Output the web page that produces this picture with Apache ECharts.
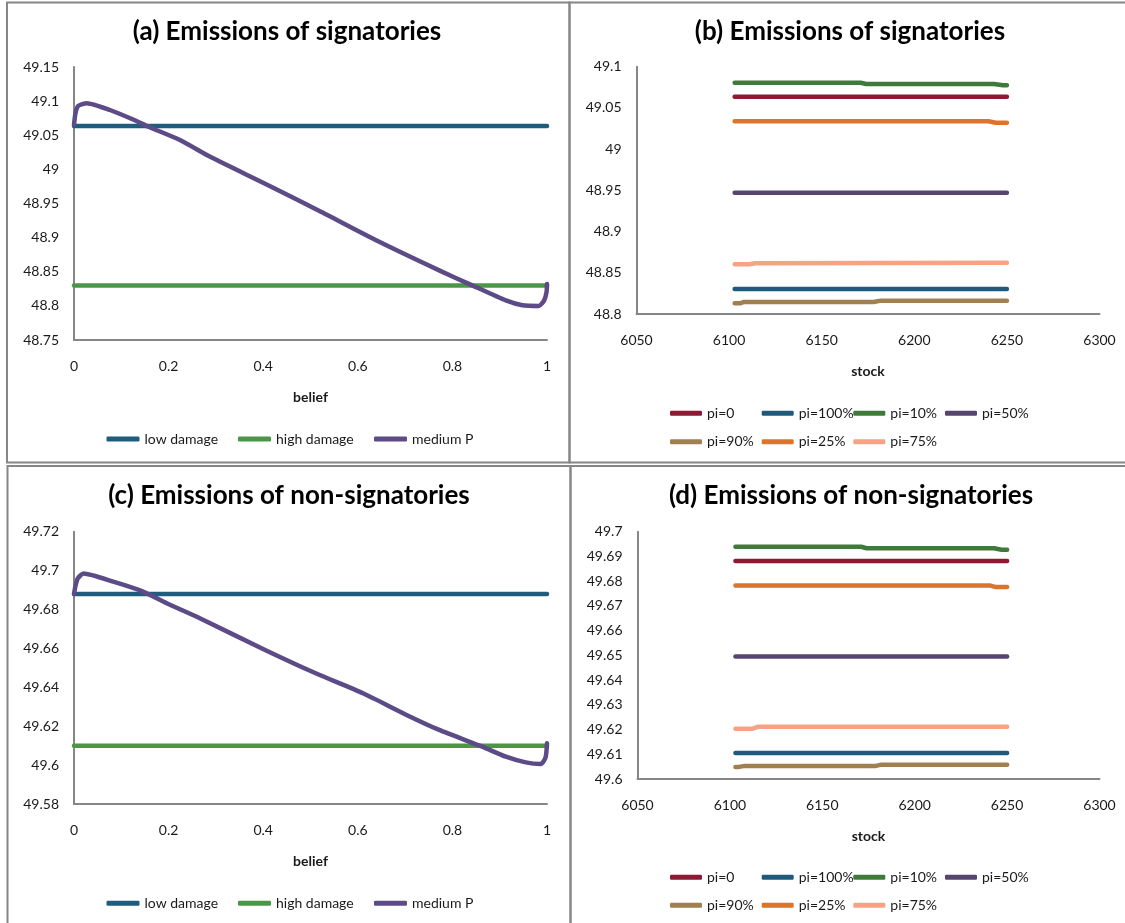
<!DOCTYPE html>
<html>
<head>
<meta charset="utf-8">
<script src="https://cdn.jsdelivr.net/npm/echarts@6/dist/echarts.min.js"></script>
<style>html,body{margin:0;padding:0;background:#fff}#main{width:1125px;height:923px}</style>
</head>
<body>
<div id="main"></div>
<script>
// ---------- DATA ----------
// Panel (a): emissions of signatories vs belief
const lowDamageA = 49.0636;
const highDamageA = 48.8300;
const beliefA  = [0, 0.003, 0.009, 0.027, 0.076, 0.125, 0.159, 0.224, 0.289, 0.404, 0.519, 0.642, 0.772, 0.842, 0.913, 0.948, 0.983, 0.994, 0.999, 1.0];
const mediumPA = [49.065, 49.082, 49.093, 49.097, 49.087, 49.073, 49.062, 49.043, 49.018, 48.979, 48.939, 48.895, 48.852, 48.830, 48.808, 48.801, 48.800, 48.808, 48.820, 48.832];

// Panel (c): emissions of non-signatories vs belief
const lowDamageC = 49.688;
const highDamageC = 49.610;
const beliefC  = [0, 0.003, 0.008, 0.02, 0.083, 0.146, 0.196, 0.266, 0.404, 0.511, 0.611, 0.703, 0.772, 0.863, 0.913, 0.955, 0.987, 0.997, 1.0];
const mediumPC = [49.688, 49.692, 49.696, 49.6985, 49.6943, 49.6892, 49.6832, 49.6755, 49.6592, 49.6472, 49.6369, 49.6258, 49.6181, 49.6095, 49.6043, 49.6014, 49.6006, 49.604, 49.6112];

// Panel (b): emissions of signatories vs stock  [stock, emission]
const bPi0   = [[6103, 49.0636], [6250, 49.0636]];
const bPi100 = [[6103, 48.8303], [6250, 48.8303]];
const bPi10  = [[6103, 49.0806], [6171, 49.0806], [6174, 49.0790], [6243, 49.0790], [6248, 49.0774], [6250, 49.0774]];
const bPi50  = [[6103, 48.9472], [6250, 48.9472]];
const bPi90  = [[6103, 48.8130], [6106, 48.8130], [6108, 48.8146], [6178, 48.8146], [6182, 48.8162], [6250, 48.8162]];
const bPi25  = [[6103, 49.0338], [6240, 49.0338], [6244, 49.0321], [6250, 49.0321]];
const bPi75  = [[6103, 48.8603], [6111, 48.8603], [6114, 48.8615], [6250, 48.8623]];

// Panel (d): emissions of non-signatories vs stock
const dPi0   = [[6103, 49.6882], [6250, 49.6882]];
const dPi100 = [[6103, 49.6105], [6250, 49.6105]];
const dPi10  = [[6103, 49.6939], [6171, 49.6939], [6174, 49.6933], [6243, 49.6933], [6247, 49.6927], [6250, 49.6927]];
const dPi50  = [[6103, 49.6495], [6250, 49.6495]];
const dPi90  = [[6103, 49.6049], [6105, 49.6049], [6108, 49.6053], [6179, 49.6053], [6182, 49.6058], [6250, 49.6058]];
const dPi25  = [[6103, 49.6782], [6241, 49.6782], [6244, 49.6776], [6250, 49.6776]];
const dPi75  = [[6103, 49.6203], [6112, 49.6203], [6115, 49.6211], [6250, 49.6211]];

const piNames = ['pi=0', 'pi=100%', 'pi=10%', 'pi=50%', 'pi=90%', 'pi=25%', 'pi=75%'];
const beliefNames = ['low damage', 'high damage', 'medium P'];
const titles = ['(a) Emissions of signatories', '(b) Emissions of signatories',
                '(c) Emissions of non-signatories', '(d) Emissions of non-signatories'];

// ---------- STYLE ----------
const FONT = 'Lato';
const AXIS_COLOR = '#868686';
const TEXT_COLOR = '#1a1a1a';
const piColors = {
  'pi=0': '#8B1A32', 'pi=100%': '#1F5A7C', 'pi=10%': '#3E7B3B', 'pi=50%': '#56466F',
  'pi=90%': '#A07F50', 'pi=25%': '#DD7429', 'pi=75%': '#F5A384'
};
const beliefColors = { 'low damage': '#1F5C7E', 'high damage': '#4C9648', 'medium P': '#5C4B86' };

const grids = [
  { left: 74,    top: 67,    width: 473, height: 273 },   // a
  { left: 636.5, top: 66.7,  width: 463, height: 247.3 }, // b
  { left: 74,    top: 531.7, width: 473, height: 272.3 }, // c
  { left: 637.5, top: 531.7, width: 462, height: 247.3 }  // d
];

const fmt = v => String(parseFloat(Number(v).toFixed(4)));

function xAxis(gi, isStock) {
  return {
    type: 'value', gridIndex: gi,
    min: isStock ? 6050 : 0, max: isStock ? 6300 : 1, interval: isStock ? 50 : 0.2,
    name: isStock ? 'stock' : 'belief', nameLocation: 'middle', nameGap: 50,
    nameTextStyle: { fontFamily: FONT, fontSize: 14, fontWeight: 'bold', color: TEXT_COLOR },
    axisLine: { onZero: false, lineStyle: { color: AXIS_COLOR, width: 2 } },
    axisTick: { show: false }, splitLine: { show: false },
    axisLabel: { fontFamily: FONT, fontSize: 14, color: TEXT_COLOR, margin: 19, formatter: fmt }
  };
}
function yAxis(gi, min, max, interval) {
  return {
    type: 'value', gridIndex: gi, min, max, interval,
    axisLine: { show: true, lineStyle: { color: AXIS_COLOR, width: 2 } },
    axisTick: { show: false }, splitLine: { show: false },
    axisLabel: { fontFamily: FONT, fontSize: 14, color: TEXT_COLOR, margin: 15, formatter: fmt }
  };
}
function line(name, data, gi, color, smooth) {
  return {
    name, type: 'line', xAxisIndex: gi, yAxisIndex: gi, data,
    symbol: 'none', showSymbol: false, smooth: smooth || false, animation: false,
    lineStyle: { color, width: 4.5, cap: 'round', join: 'round' },
    itemStyle: { color }
  };
}
const zip = (xs, ys) => xs.map((x, i) => [x, ys[i]]);

const series = [
  line('low damage',  [[0, lowDamageA], [1, lowDamageA]], 0, beliefColors['low damage']),
  line('high damage', [[0, highDamageA], [1, highDamageA]], 0, beliefColors['high damage']),
  line('medium P',    zip(beliefA, mediumPA), 0, beliefColors['medium P'], 0.2),
  line('low damage',  [[0, lowDamageC], [1, lowDamageC]], 2, beliefColors['low damage']),
  line('high damage', [[0, highDamageC], [1, highDamageC]], 2, beliefColors['high damage']),
  line('medium P',    zip(beliefC, mediumPC), 2, beliefColors['medium P'], 0.2)
];
const bData = { 'pi=0': bPi0, 'pi=100%': bPi100, 'pi=10%': bPi10, 'pi=50%': bPi50, 'pi=90%': bPi90, 'pi=25%': bPi25, 'pi=75%': bPi75 };
const dData = { 'pi=0': dPi0, 'pi=100%': dPi100, 'pi=10%': dPi10, 'pi=50%': dPi50, 'pi=90%': dPi90, 'pi=25%': dPi25, 'pi=75%': dPi75 };
piNames.forEach(n => series.push(line(n, bData[n], 1, piColors[n])));
piNames.forEach(n => series.push(line(n, dData[n], 3, piColors[n])));

// legends (one component per item, for Excel-like fixed positions)
const legends = [];
function legendItem(name, left, cy, w) {
  legends.push({
    data: [{ name, icon: 'roundRect' }], left, top: cy - 7, itemWidth: w, itemHeight: 5, itemGap: 0, padding: 0,
    selectedMode: false,
    textStyle: { fontFamily: FONT, fontSize: 14, color: TEXT_COLOR, lineHeight: 14 }
  });
}
const beliefLegendX = [106.5, 238, 374];
[439, 903.3].forEach(cy => beliefNames.forEach((n, i) => legendItem(n, beliefLegendX[i], cy, 33)));
const piColX = [670, 761.7, 853.3, 945];
[[413.3, 441.7], [877.3, 905.3]].forEach(rows => {
  piNames.forEach((n, i) => {
    const r = i < 4 ? 0 : 1, c = i < 4 ? i : i - 4;
    legendItem(n, piColX[c], rows[r], 32);
  });
});

// panel borders and titles
const graphic = [
  { type: 'rect', shape: { x: 7,     y: 2.5, width: 562.5, height: 460 }, style: { fill: 'none', stroke: AXIS_COLOR, lineWidth: 2 } },
  { type: 'rect', shape: { x: 569.5, y: 2.5, width: 560,   height: 460 }, style: { fill: 'none', stroke: AXIS_COLOR, lineWidth: 2 } },
  { type: 'rect', shape: { x: 7.5,   y: 466, width: 563,   height: 470 }, style: { fill: 'none', stroke: AXIS_COLOR, lineWidth: 2 } },
  { type: 'rect', shape: { x: 570.5, y: 466, width: 560,   height: 470 }, style: { fill: 'none', stroke: AXIS_COLOR, lineWidth: 2 } }
];
const titlePos = [[287, 32], [850, 32], [289, 496], [851, 496]];
titles.forEach((t, i) => graphic.push({
  type: 'text', x: titlePos[i][0], y: titlePos[i][1],
  style: { text: t, fontFamily: FONT, fontSize: 26, fontWeight: 'bold', fill: '#000',
           align: 'center', verticalAlign: 'middle' }
}));

const chart = echarts.init(document.getElementById('main'), null, { renderer: 'canvas' });
chart.setOption({
  animation: false,
  backgroundColor: '#fff',
  grid: grids,
  xAxis: [xAxis(0, false), xAxis(1, true), xAxis(2, false), xAxis(3, true)],
  yAxis: [yAxis(0, 48.75, 49.15, 0.05), yAxis(1, 48.8, 49.1, 0.05), yAxis(2, 49.58, 49.72, 0.02), yAxis(3, 49.6, 49.7, 0.01)],
  legend: legends,
  series,
  graphic
});
</script>
</body>
</html>
